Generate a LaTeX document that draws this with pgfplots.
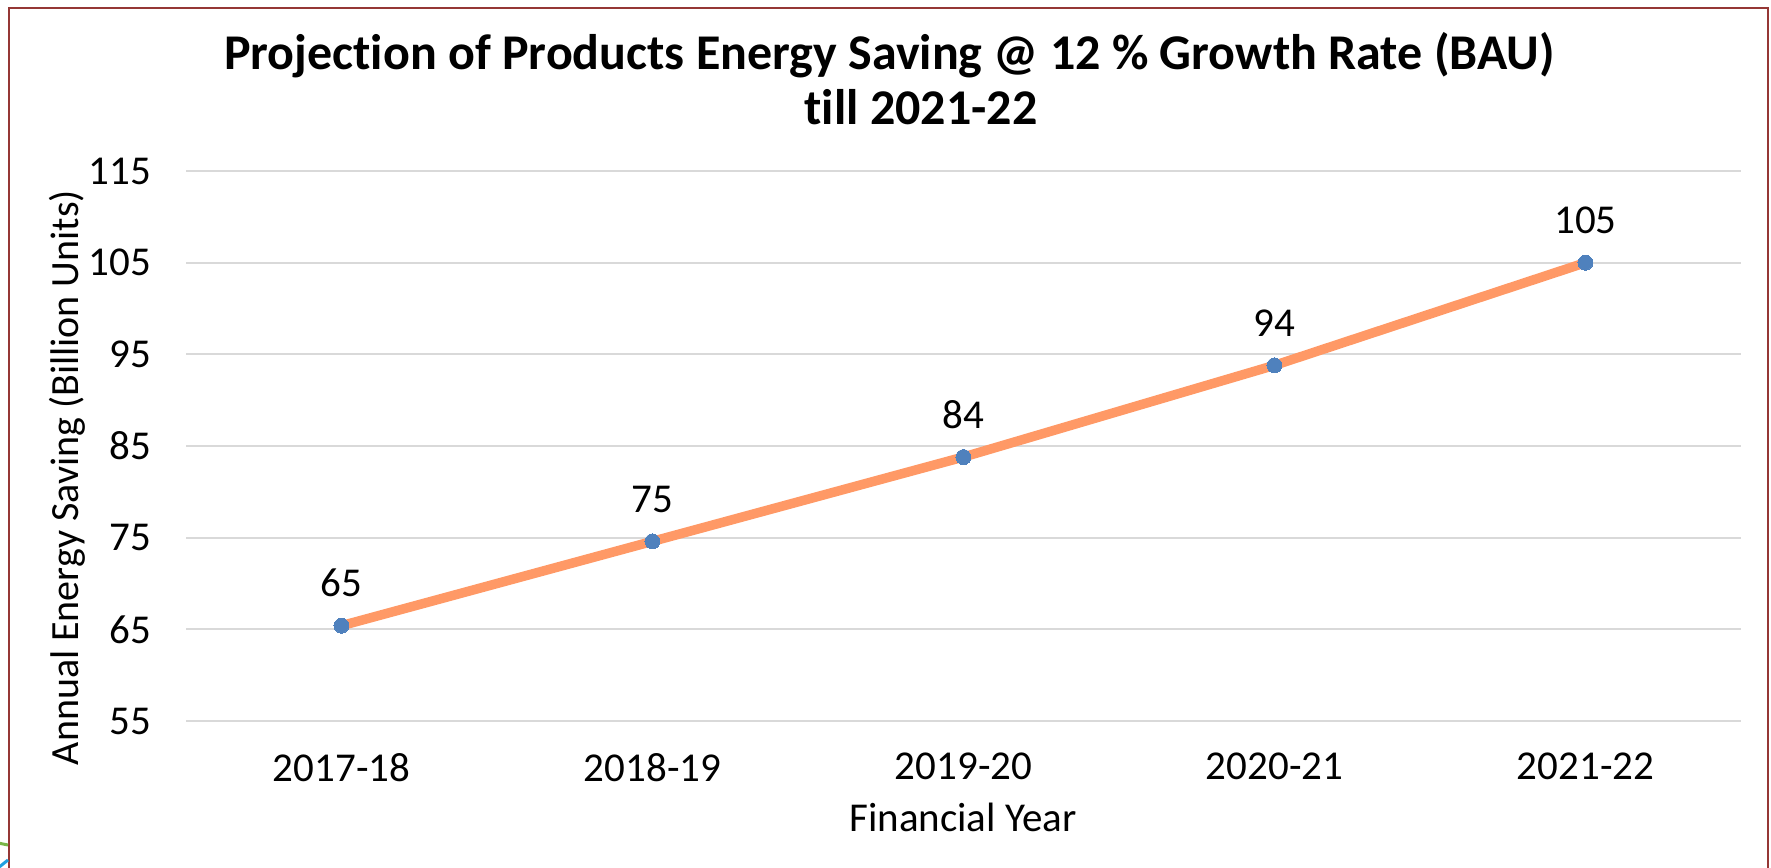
\documentclass[border=0pt]{standalone}
\usepackage{pgfplots}
\pgfplotsset{compat=1.18}
\usepackage{fontspec}
\setmainfont[Ligatures=NoCommon]{Carlito}
\definecolor{frameRed}{HTML}{953735}
\definecolor{gridGray}{HTML}{D9D9D9}
\definecolor{lineOrange}{HTML}{FF9966}
\definecolor{markBlue}{HTML}{4F81BD}
\pgfplotstableread{
x y label
0 65.4 65
1 74.6 75
2 83.8 84
3 93.8 94
4 105.0 105
}\savingdata
\begin{document}
\begin{tikzpicture}[x=1pt,y=1pt]
\begin{axis}[
  at={(186pt,-721pt)}, anchor=south west,
  scale only axis, width=1555pt, height=550pt,
  xmin=-0.5, xmax=4.5, ymin=55, ymax=115,
  xtick={0,1,2,3,4},
  xticklabels={2017-18,2018-19,2019-20,2020-21,2021-22},
  ytick={55,65,75,85,95,105,115},
  ymajorgrids,
  grid style={color=gridGray, line width=2pt},
  axis line style={draw=none},
  major tick length=0pt,
  tick label style={font=\fontsize{41}{49}\selectfont, text=black},
  yticklabel style={anchor=east, inner sep=0pt, xshift=-35pt},
  xticklabel style={anchor=north, inner sep=0pt, yshift=-32pt},
  /pgf/number format/assume math mode=true,
  clip=false,
]
\addplot[color=lineOrange, line width=9.5pt, line join=round,
  mark=*, mark size=7.5pt,
  mark options={fill=markBlue, draw=markBlue, line width=0pt},
  point meta=explicit symbolic,
  nodes near coords,
  every node near coord/.append style={anchor=base, inner sep=0pt, yshift=29pt,
     font=\fontsize{41}{49}\selectfont, text=black},
] table[x=x, y=y, meta=label] {\savingdata};
\end{axis}
\node[font=\bfseries\fontsize{50}{56}\selectfont, anchor=base] at (889.5,-70) {Projection of Products Energy Saving @ 12 \% Growth Rate (BAU)};
\node[font=\bfseries\fontsize{50}{56}\selectfont, anchor=base] at (921,-124) {till 2021-22};
\node[font=\fontsize{41}{49}\selectfont, anchor=base] at (963,-831) {Financial Year};
\node[font=\fontsize{40}{48}\selectfont, anchor=base, rotate=90] at (78,-477.5) {Annual Energy Saving (Billion Units)};
\draw[frameRed, line width=2pt] (9,-880) -- (9,-8) -- (1768,-8) -- (1768,-880);
\draw[color={rgb,255:red,122;green,182;blue,72}, line width=3pt] (-2,-843) -- (8,-845);
\draw[color={rgb,255:red,30;green,160;blue,224}, line width=3pt] (-2,-868) -- (8,-860);
\pgfresetboundingbox
\path (0,0) rectangle (1771,-867);
\end{tikzpicture}
\end{document}
